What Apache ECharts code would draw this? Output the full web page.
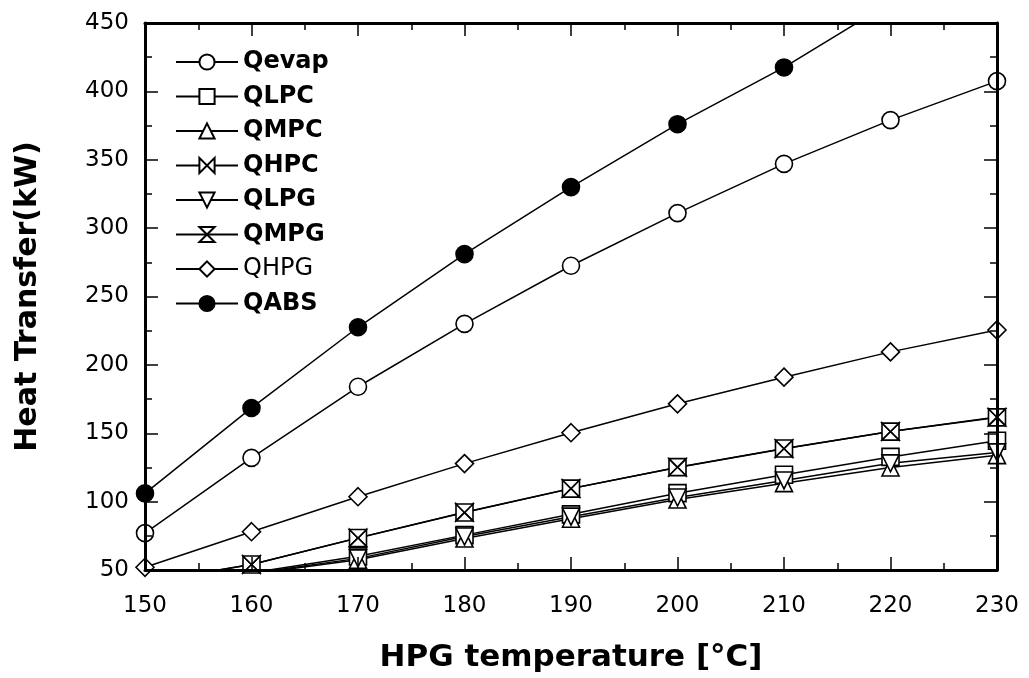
<!DOCTYPE html>
<html>
<head>
<meta charset="utf-8">
<script src="https://cdn.jsdelivr.net/npm/echarts@6/dist/echarts.min.js"></script>
<style>html,body{margin:0;padding:0;background:#fff;}#c{width:1029px;height:678px;}</style>
</head>
<body>
<div id="c"></div>
<script>
const temps = [150, 160, 170, 180, 190, 200, 210, 220, 230];
const Qevap = [77, 132, 184, 230, 272.5, 311, 347, 379, 407.5];
const QLPC  = [28, 48, 60, 75.5, 90.7, 106.2, 119.6, 132.7, 144.5];
const QMPC  = [26, 47, 57.5, 73, 87.5, 101.5, 113.5, 125, 134];
const QHPC  = [41, 54, 73.5, 92.2, 109.6, 125, 138.7, 151.3, 161.8];
const QLPG  = [26.5, 47.5, 58.5, 74.5, 89, 103, 115.5, 128, 136];
const QMPG  = [41, 54, 73.4, 92, 109.5, 125.2, 138.8, 151.2, 161.6];
const QHPG  = [52, 78, 103.6, 127.8, 150.4, 171.5, 191, 209.5, 225.5];
const QABS  = [106, 168.5, 227.5, 281, 330, 376, 417.5, 465, 505];
const seriesNames = ['Qevap','QLPC','QMPC','QHPC','QLPG','QMPG','QHPG','QABS'];
const yTicks = {min: 50, max: 450, interval: 50};
const xTicks = {min: 150, max: 230, interval: 10};

const BOWTIE = 'path://M0 0 L0 10 L10 5 Z M20 0 L20 10 L10 5 Z';
const HOURGLASS = 'path://M0 0 L10 0 L5 5 Z M0 10 L10 10 L5 5 Z';
const TRI_DOWN = 'path://M0 0 L10 0 L5 9 Z';
const TRI_UP = 'path://M5 0 L10 9 L0 9 Z';

const FONT = 'DejaVu Sans';
const chart = echarts.init(document.getElementById('c'), null, {renderer: 'canvas'});

function mk(name, values, symbol, size, filled) {
  return {
    name: name,
    type: 'line',
    data: temps.map((t, i) => [t, values[i]]),
    symbol: symbol,
    symbolSize: size,
    showAllSymbol: true,
    clip: true,
    z: 2,
    lineStyle: {color: '#000', width: 1.5},
    itemStyle: {color: filled ? '#000' : '#fff', borderColor: '#000', borderWidth: 1.6},
    emphasis: {disabled: true},
    animation: false
  };
}

const tickCommon = {
  axisLine: {show: true, lineStyle: {color: '#000', width: 3}},
  axisTick: {show: true, inside: true, length: 13, lineStyle: {color: '#000', width: 1.5}},
  minorTick: {show: true, splitNumber: 2, length: 7, lineStyle: {color: '#000', width: 1.5}},
  splitLine: {show: false},
  z: 10
};

const option = {
  backgroundColor: '#fff',
  animation: false,
  grid: {left: 145, right: 32, top: 23, bottom: 106, containLabel: false},
  xAxis: [
    Object.assign({
      type: 'value', position: 'bottom', min: xTicks.min, max: xTicks.max, interval: xTicks.interval,
      name: 'HPG temperature [°C]', nameLocation: 'middle', nameGap: 72,
      nameTextStyle: {fontFamily: FONT, fontWeight: 'bold', fontSize: 31, color: '#000'},
      axisLabel: {show: true, margin: 25, fontFamily: FONT, fontSize: 23, color: '#000'}
    }, tickCommon),
    Object.assign({
      type: 'value', position: 'top', min: xTicks.min, max: xTicks.max, interval: xTicks.interval,
      axisLabel: {show: false}
    }, tickCommon)
  ],
  yAxis: [
    Object.assign({
      type: 'value', position: 'left', min: yTicks.min, max: yTicks.max, interval: yTicks.interval,
      name: 'Heat Transfer(kW)', nameLocation: 'middle', nameGap: 102,
      nameTextStyle: {fontFamily: FONT, fontWeight: 'bold', fontSize: 30, color: '#000'},
      axisLabel: {show: true, margin: 16, fontFamily: FONT, fontSize: 23, color: '#000'}
    }, tickCommon),
    Object.assign({
      type: 'value', position: 'right', min: yTicks.min, max: yTicks.max, interval: yTicks.interval,
      axisLabel: {show: false}
    }, tickCommon)
  ],
  legend: {
    show: true,
    orient: 'vertical',
    left: 175,
    top: 50,
    itemWidth: 62,
    itemHeight: 19,
    itemGap: 10.5,
    padding: 0,
    selectedMode: false,
    data: seriesNames,
    formatter: function (name) {
      return name === 'QHPG' ? '{n|' + name + '}' : '{b|' + name + '}';
    },
    textStyle: {
      color: '#000', fontFamily: FONT, fontSize: 24, lineHeight: 24,
      rich: {
        b: {fontFamily: FONT, fontWeight: 'bold', fontSize: 24, lineHeight: 24, color: '#000'},
        n: {fontFamily: FONT, fontWeight: 'normal', fontSize: 24, lineHeight: 24, color: '#000'}
      }
    }
  },
  series: [
    mk('Qevap', Qevap, 'circle', 17, false),
    mk('QLPC', QLPC, 'rect', 17, false),
    mk('QMPC', QMPC, TRI_UP, 17, false),
    mk('QHPC', QHPC, BOWTIE, 17, false),
    mk('QLPG', QLPG, TRI_DOWN, 17, false),
    mk('QMPG', QMPG, HOURGLASS, 17, false),
    mk('QHPG', QHPG, 'diamond', 18, false),
    mk('QABS', QABS, 'circle', 17, true)
  ]
};
chart.setOption(option);
</script>
</body>
</html>
